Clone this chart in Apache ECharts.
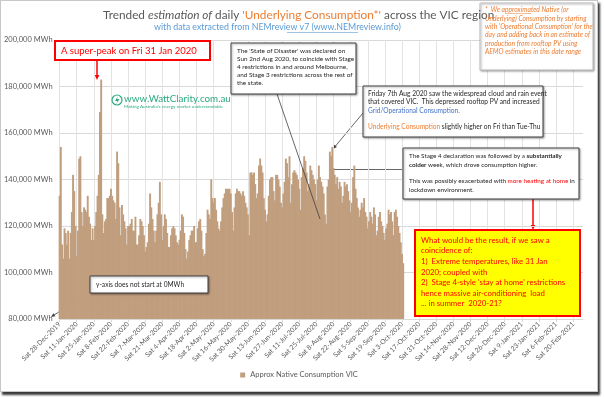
<!DOCTYPE html>
<html>
<head>
<meta charset="utf-8">
<script src="https://cdn.jsdelivr.net/npm/echarts@6/dist/echarts.min.js"></script>
<style>
  html, body { margin: 0; padding: 0; background: #fff; }
  #chart {
    position: absolute; left: 0; top: 0;
    width: 596px; height: 390px;
    border: 1px solid #c8c8c8;
    box-shadow: 2px 3px 2px #3a3a3a;
    background: #fff;
  }
</style>
</head>
<body>
<div id="chart"></div>
<script>
// Daily axis runs from Sat 28-Dec-2019 to 28-Feb-2021 (data only to early Oct 2020)
const START_DATE = Date.UTC(2019, 11, 28);
const AXIS_DAYS = 429;
const DAY_NAMES = ['Sun', 'Mon', 'Tue', 'Wed', 'Thu', 'Fri', 'Sat'];
const MONTH_NAMES = ['Jan', 'Feb', 'Mar', 'Apr', 'May', 'Jun', 'Jul', 'Aug', 'Sep', 'Oct', 'Nov', 'Dec'];

// Approx native (underlying) consumption VIC, thousand MWh per day, from 28-Dec-2019
const nativeConsumptionK = [
  133, 154, 112, 106, 119, 117, 112, 118, 106, 117,
  126, 142, 135, 120, 107, 118, 149, 150, 126, 120,
  128, 127, 126, 133, 124, 121, 114, 119, 114, 120,
  126, 133, 142, 169, 183, 125, 117, 122, 123, 132,
  132, 133, 136, 133, 131, 130, 123, 152, 147, 128,
  116, 129, 125, 122, 119, 112, 120, 120, 121, 123,
  118, 118, 124, 112, 112, 116, 123, 122, 120, 116,
  109, 111, 113, 121, 134, 128, 123, 118, 113, 118,
  125, 130, 139, 125, 114, 120, 125, 123, 117, 111,
  111, 116, 119, 120, 119, 116, 113, 112, 114, 118,
  125, 124, 117, 110, 106, 109, 114, 116, 118, 118,
  120, 113, 113, 119, 122, 123, 118, 110, 107, 108,
  117, 127, 125, 123, 140, 132, 130, 132, 127, 122,
  119, 118, 122, 128, 132, 134, 136, 136, 136, 136,
  134, 126, 118, 128, 134, 136, 135, 135, 134, 133,
  135, 133, 130, 128, 125, 116, 143, 143, 142, 143,
  138, 132, 134, 146, 149, 146, 143, 132, 127, 122,
  125, 133, 140, 141, 141, 135, 131, 142, 142, 140,
  137, 130, 128, 134, 139, 149, 147, 141, 150, 130,
  138, 143, 144, 143, 142, 140, 136, 127, 141, 145,
  150, 148, 143, 135, 138, 146, 144, 142, 140, 138,
  131, 140, 146, 141, 139, 137, 134, 125, 121, 137,
  140, 152, 150, 154, 145, 142, 138, 141, 136, 139,
  137, 130, 133, 139, 137, 138, 135, 131, 126, 130,
  141, 146, 136, 132, 128, 124, 127, 130, 128, 132,
  126, 124, 119, 122, 126, 124, 121, 128, 125, 116,
  118, 124, 126, 122, 120, 117, 114, 119, 121, 127,
  125, 126, 122, 116, 126, 127, 124, 120, 117, 113,
  108, 104
];

const yTicks = [80000, 200000, 20000]; // min, max, step
const SERIES_NAME = 'Approx Native Consumption VIC';

const FONT = 'Lato, "Open Sans", sans-serif';
const GREY = '#595959';
const ORANGE = '#ED7D31';
const BLUE = '#5B9BD5';
const RED = '#FF0000';
const BAR = '#C09E7E';

// category labels like "Sat 28-Dec-2019"
const categories = [];
for (let i = 0; i < AXIS_DAYS; i++) {
  const d = new Date(START_DATE + i * 86400000);
  categories.push(DAY_NAMES[d.getUTCDay()] + ' ' + d.getUTCDate() + '-' +
    MONTH_NAMES[d.getUTCMonth()] + '-' + d.getUTCFullYear());
}

function arrow(x1, y1, x2, y2, color, width, head) {
  const a = Math.atan2(y2 - y1, x2 - x1);
  const h = head || 5;
  const c = Math.cos(a), s = Math.sin(a);
  return {
    type: 'group',
    z: 20,
    children: [
      { type: 'line', shape: { x1: x1, y1: y1, x2: x2 - c * h * 0.8, y2: y2 - s * h * 0.8 },
        style: { stroke: color, lineWidth: width } },
      { type: 'polygon',
        shape: { points: [[x2, y2],
          [x2 - h * c + h * 0.45 * s, y2 - h * s - h * 0.45 * c],
          [x2 - h * c - h * 0.45 * s, y2 - h * s + h * 0.45 * c]] },
        style: { fill: color } }
    ]
  };
}

function box(x, y, w, h, opts) {
  opts = opts || {};
  return {
    type: 'rect', z: 15,
    shape: { x: x, y: y, width: w, height: h },
    style: {
      fill: opts.fill || '#fff',
      stroke: opts.stroke || '#404040',
      lineWidth: opts.lineWidth || 1,
      shadowBlur: opts.shadow === false ? 0 : 2,
      shadowOffsetX: opts.shadow === false ? 0 : 1,
      shadowOffsetY: opts.shadow === false ? 0 : 1,
      shadowColor: 'rgba(0,0,0,0.35)'
    }
  };
}

function text(x, y, str, rich, base) {
  return {
    type: 'text', z: 16, x: x, y: y,
    style: Object.assign({
      text: str,
      rich: rich,
      fontFamily: FONT,
      fontSize: 7,
      fill: '#262626',
      lineHeight: 8.2
    }, base || {})
  };
}

const chart = echarts.init(document.getElementById('chart'));

const graphics = [
  // title + subtitle
  text(102, 14, '{g|Trended }{i|estimation of}{g| daily }{o|\'Underlying Consumption*\'}{g| across the VIC region}', {
    g: { fontFamily: FONT, fontSize: 11.8, fill: GREY },
    i: { fontFamily: FONT, fontSize: 11.8, fill: GREY, fontStyle: 'italic' },
    o: { fontFamily: FONT, fontSize: 11.8, fill: ORANGE }
  }, { align: 'left', verticalAlign: 'middle' }),
  text(153, 26, 'with data extracted from NEMreview v7 (www.NEMreview.info)', null,
    { fill: BLUE, fontSize: 8.8, align: 'left', verticalAlign: 'middle' }),
  { type: 'line', z: 16, shape: { x1: 286, y1: 31.5, x2: 357, y2: 31.5 }, style: { stroke: BLUE, lineWidth: 0.6 } },

  // footnote box top-right
  box(479, 2, 113, 67, { stroke: '#bfbfbf' }),
  text(484, 5,
    '*  We approximated Native (or\nUnderlying) Consumption by starting\nwith \'Operational Consumption\' for the\nday and adding back in an estimate of\nproduction from rooftop PV using\nAEMO estimates in this date range',
    null, { fill: ORANGE, fontStyle: 'italic', fontSize: 6.7, lineHeight: 8.3 }),
  { type: 'line', z: 16, shape: { x1: 504, y1: 12.5, x2: 530, y2: 12.5 }, style: { stroke: ORANGE, lineWidth: 0.5 } },

  // super-peak callout
  box(54, 40, 155, 19, { stroke: RED, lineWidth: 2, shadow: false }),
  text(60, 49.5, 'A super-peak on Fri 31 Jan 2020', null,
    { fill: RED, fontSize: 9.5, verticalAlign: 'middle' }),
  arrow(96, 60, 96, 79, RED, 1.5, 5),

  // WattClarity watermark
  { type: 'circle', z: 14, shape: { cx: 116, cy: 99, r: 5 }, style: { fill: 'none', stroke: '#2BAA7E', lineWidth: 1.2 } },
  { type: 'polygon', z: 14, shape: { points: [[117, 95], [114, 100], [116.5, 100], [115, 103.5], [118.5, 98], [116, 98]] }, style: { fill: '#2BAA7E' } },
  text(123, 98, 'www.WattClarity.com.au', null,
    { fill: '#2BAA7E', fontSize: 9.8, verticalAlign: 'middle' }),
  text(123, 106, 'Making Australia\'s energy market understandable', null,
    { fill: '#2BAA7E', fontSize: 4.6, verticalAlign: 'middle' }),

  // state of disaster
  box(230, 42, 125, 51),
  text(236, 46,
    'The \'State of Disaster\' was declared on\nSun 2nd Aug 2020, to coincide with Stage\n4 restrictions in and around Melbourne,\nand Stage 3 restrictions across the rest of\nthe state.',
    null, { fontSize: 6.4, lineHeight: 8 }),
  { type: 'line', z: 14, shape: { x1: 276, y1: 93, x2: 319, y2: 218 }, style: { stroke: '#404040', lineWidth: 0.8 } },
  arrow(316, 210, 322, 226, '#404040', 0.8, 4),

  // Friday 7th Aug
  box(362, 85, 180, 51),
  text(367, 89,
    '{k|Friday 7th Aug 2020 saw the widespread cloud and rain event}\n{k|that covered VIC.  This depressed rooftop PV and increased}\n{b|Grid/Operational Consumption.}\n\n{o|Underlying Consumption}{k| slightly higher on Fri than Tue-Thu}',
    {
      k: { fontFamily: FONT, fontSize: 6.6, fill: '#262626', lineHeight: 8.2 },
      b: { fontFamily: FONT, fontSize: 6.6, fill: '#4472C4', lineHeight: 8.2 },
      o: { fontFamily: FONT, fontSize: 6.6, fill: ORANGE, lineHeight: 8.2 }
    }),
  arrow(362, 112, 332, 148, '#404040', 0.8, 4),

  // Stage 4 colder week
  box(402, 147, 176, 51),
  text(408, 151,
    '{k|The Stage 4 declaration was followed by a }{s|substantially}\n{s|colder}{k| week, which drove consumption higher.}\n\n{k|This was possibly exacerbated with }{r|more heating at home}{k| in}\n{k|lockdown environment.}',
    {
      k: { fontFamily: FONT, fontSize: 6.3, fill: '#262626', lineHeight: 8.4 },
      s: { fontFamily: FONT, fontSize: 6.3, fill: '#262626', fontWeight: 'bold', lineHeight: 8.4 },
      r: { fontFamily: FONT, fontSize: 6.3, fill: RED, lineHeight: 8.4 }
    }),
  arrow(402, 168.5, 328, 168.5, '#404040', 0.8, 4),

  // red arrow to the question box
  arrow(532, 186, 532, 229, RED, 1.5, 5),

  // yellow question box
  box(414, 229, 165, 86, { fill: '#FFFF00', stroke: RED, lineWidth: 2, shadow: false }),
  text(420, 234,
    'What would be the result, if we saw a\ncoincidence of:\n1)  Extreme temperatures, like 31 Jan\n2020; coupled with\n2)  Stage 4-style \'stay at home\' restrictions\nhence massive air-conditioning  load\n... in summer  2020-21?',
    null, { fill: RED, fontSize: 7.8, lineHeight: 10.6 }),

  // y-axis note
  box(89, 275, 118, 17),
  text(95, 283.5, 'y-axis does not start at 0MWh', null,
    { fontSize: 6.6, verticalAlign: 'middle' }),
  arrow(89, 291, 50, 316, '#404040', 0.8, 4)
];

const option = {
  animation: false,
  textStyle: { fontFamily: FONT },
  grid: { left: 54, right: 14, top: 39, bottom: 72 },
  legend: {
    bottom: 7,
    left: 'center',
    icon: 'rect',
    itemWidth: 5,
    itemHeight: 5,
    itemGap: 4,
    textStyle: { color: GREY, fontSize: 7.5, fontFamily: FONT },
    data: [SERIES_NAME]
  },
  xAxis: {
    type: 'category',
    data: categories,
    boundaryGap: false,
    axisLine: { lineStyle: { color: '#d9d9d9' } },
    axisTick: { show: true, interval: 13, length: 3, lineStyle: { color: '#d9d9d9' } },
    axisLabel: {
      interval: 13,
      rotate: 45,
      color: GREY,
      fontSize: 6.8,
      fontFamily: FONT,
      margin: 4
    },
    splitLine: { show: true, interval: 13, lineStyle: { color: '#e3e3e3', width: 1 } }
  },
  yAxis: {
    type: 'value',
    min: yTicks[0],
    max: yTicks[1],
    interval: yTicks[2],
    axisLine: { show: false },
    axisTick: { show: false },
    axisLabel: {
      color: GREY,
      fontSize: 7.5,
      fontFamily: FONT,
      margin: 7,
      formatter: function (v) { return v.toLocaleString('en-US') + ' MWh'; }
    },
    splitLine: { lineStyle: { color: '#d9d9d9' } }
  },
  series: [{
    name: SERIES_NAME,
    type: 'bar',
    data: nativeConsumptionK.map(function (v) { return v * 1000; }),
    barWidth: 1.9,
    itemStyle: { color: BAR },
    z: 2
  }],
  graphic: graphics
};

chart.setOption(option);
</script>
</body>
</html>
